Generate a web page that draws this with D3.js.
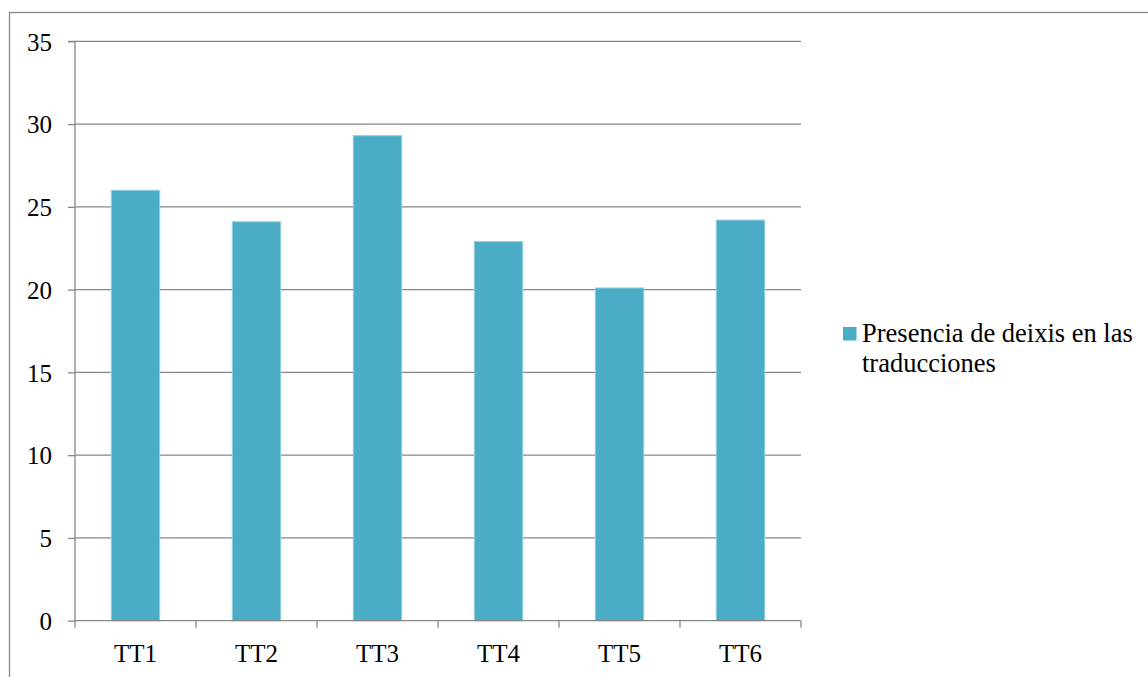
<!DOCTYPE html>
<html>
<head>
<meta charset="utf-8">
<script src="https://cdn.jsdelivr.net/npm/d3@7"></script>
<style>
  html, body { margin: 0; padding: 0; background: #fff; }
  svg { display: block; }
  text { font-family: "Liberation Serif", "Times New Roman", serif; fill: #000; }
</style>
</head>
<body>
<svg id="chart" width="1148" height="677"></svg>
<script>
const categories = ["TT1", "TT2", "TT3", "TT4", "TT5", "TT6"];
const values = [26.0, 24.1, 29.3, 22.9, 20.1, 24.2];
const yTicks = [0, 5, 10, 15, 20, 25, 30, 35];
const seriesName = ["Presencia de deixis en las", "traducciones"];

const svg = d3.select("#chart");
const W = 1148, H = 677;

// outer border (chart area frame)
svg.append("rect")
  .attr("x", 9.5).attr("y", 12.5)
  .attr("width", W).attr("height", H)
  .attr("fill", "none").attr("stroke", "#8a8a8a").attr("stroke-width", 1.3);

const pLeft = 75, pRight = 801, pTop = 41.3, pBottom = 620.7;

const x = d3.scaleBand().domain(categories).range([pLeft, pRight]).paddingInner(0.6).paddingOuter(0.3);
const xEdge = d3.scaleBand().domain(categories).range([pLeft, pRight]);
const y = d3.scaleLinear().domain([0, 35]).range([pBottom, pTop]);

// gridlines
svg.append("g").selectAll("line").data(yTicks.filter(d => d > 0)).join("line")
  .attr("x1", pLeft).attr("x2", pRight)
  .attr("y1", d => y(d)).attr("y2", d => y(d))
  .attr("stroke", "#878787").attr("stroke-width", 1.3);

// bars
svg.append("g").selectAll("rect").data(values).join("rect")
  .attr("x", (d, i) => x(categories[i]))
  .attr("width", x.bandwidth())
  .attr("y", d => y(d))
  .attr("height", d => pBottom - y(d))
  .attr("fill", "#4bacc6")
  .attr("stroke", "#93cfdf").attr("stroke-width", 1);

// y axis
const yAxis = d3.axisLeft(y).tickValues(yTicks).tickSize(7).tickPadding(16).tickFormat(d3.format("d"));
const gy = svg.append("g").attr("transform", `translate(${pLeft},0)`).call(yAxis);
gy.select(".domain").attr("stroke", "#878787").attr("stroke-width", 1.3).attr("d", `M-7,${pTop}H0V${pBottom}`);
gy.selectAll(".tick line").attr("stroke", "#878787").attr("stroke-width", 1.3);
gy.selectAll(".tick text").attr("font-size", 25).attr("font-family", "Liberation Serif").attr("fill", "#000").attr("dy", "0.35em");

// x axis: ticks at category boundaries
const gx = svg.append("g");
gx.append("line").attr("x1", pLeft).attr("x2", pRight).attr("y1", pBottom).attr("y2", pBottom)
  .attr("stroke", "#878787").attr("stroke-width", 1.3);
const edges = categories.map(c => xEdge(c)).concat([pRight]);
gx.selectAll("line.tk").data(edges).join("line").attr("class", "tk")
  .attr("x1", d => d).attr("x2", d => d).attr("y1", pBottom).attr("y2", pBottom + 7)
  .attr("stroke", "#878787").attr("stroke-width", 1.3);
gx.selectAll("text").data(categories).join("text")
  .attr("x", d => xEdge(d) + xEdge.bandwidth() / 2)
  .attr("y", 661.5)
  .attr("text-anchor", "middle")
  .attr("font-size", 25)
  .text(d => d);

// legend
const lg = svg.append("g");
lg.append("rect").attr("x", 843).attr("y", 327).attr("width", 13.5).attr("height", 13.5).attr("fill", "#4bacc6");
lg.selectAll("text").data(seriesName).join("text")
  .attr("x", 862).attr("y", (d, i) => 341.7 + i * 30)
  .attr("font-size", 26.5)
  .text(d => d);
</script>
</body>
</html>
